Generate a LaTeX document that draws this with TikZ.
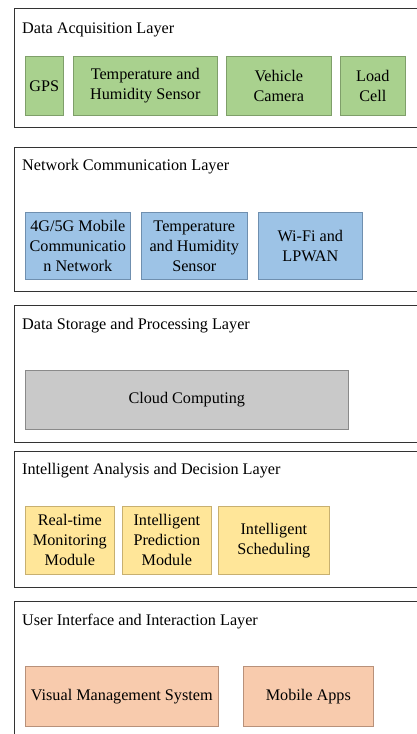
\documentclass[tikz,border=0pt]{standalone}
\usepackage{fontspec}
\setmainfont{Liberation Serif}
\definecolor{acqfill}{HTML}{A9D18E}
\definecolor{acqdraw}{HTML}{7F9F6A}
\definecolor{netfill}{HTML}{9DC3E6}
\definecolor{netdraw}{HTML}{6F8FAF}
\definecolor{cloudfill}{HTML}{C9C9C9}
\definecolor{clouddraw}{HTML}{8A8A8A}
\definecolor{anafill}{HTML}{FFE699}
\definecolor{anadraw}{HTML}{C8B070}
\definecolor{uifill}{HTML}{F8CBAD}
\definecolor{uidraw}{HTML}{B8917A}
\begin{document}
\begin{tikzpicture}[x=1pt,y=-1pt]
      \tikzset{layer/.style={draw=black!80, line width=1pt, fill=white, anchor=north west, inner sep=0pt},
               title/.style={anchor=base west, inner sep=0pt, font=\fontsize{16.2}{20}\selectfont},
               unit/.style={line width=0.6pt, anchor=north west, inner sep=0pt, align=center, font=\fontsize{16.2}{20}\selectfont}}
      \useasboundingbox (0,0) rectangle (417,734);
%% Layer frames
      	\node[layer, minimum width=420, minimum height=119] (acq) at (14,8) {};
      	\node[layer, minimum width=420, minimum height=144] (net) at (14,147) {};
      	\node[layer, minimum width=420, minimum height=137] (sto) at (14,305) {};
      	\node[layer, minimum width=420, minimum height=136] (ana) at (14,451) {};
      	\node[layer, minimum width=420, minimum height=140] (ui) at (14,601) {};
%% Titles
      	\node[title] (acqt) at (22,33) {Data Acquisition Layer};
      	\node[title] (nett) at (22,170) {Network Communication Layer};
      	\node[title] (stot) at (22,329) {Data Storage and Processing Layer};
      	\node[title] (anat) at (22,474) {Intelligent Analysis and Decision Layer};
      	\node[title] (uit) at (22,625) {User Interface and Interaction Layer};
%Data acquisition
		\node[unit, fill=acqfill, draw=acqdraw, minimum width=38, minimum height=59] (gps) at (25,56) {GPS};
		\node[unit, fill=acqfill, draw=acqdraw, minimum width=144, minimum height=59] (ths) at (73,56) {Temperature and\\Humidity Sensor};
		\node[unit, fill=acqfill, draw=acqdraw, minimum width=105, minimum height=59] (cam) at (226,56) {Vehicle\\Camera};
		\node[unit, fill=acqfill, draw=acqdraw, minimum width=65, minimum height=59] (load) at (340,56) {Load\\Cell};
%Network communication
		\node[unit, fill=netfill, draw=netdraw, minimum width=105, minimum height=67] (mob) at (25,212) {4G/5G Mobile\\Communicatio\\n Network};
		\node[unit, fill=netfill, draw=netdraw, minimum width=106, minimum height=67] (nths) at (141,212) {Temperature\\and Humidity\\Sensor};
		\node[unit, fill=netfill, draw=netdraw, minimum width=104, minimum height=67] (wifi) at (258,212) {Wi-Fi and\\LPWAN};
%Storage and processing
		\node[unit, fill=cloudfill, draw=clouddraw, minimum width=323, minimum height=59] (cloud) at (25,370) {Cloud Computing};
%Analysis and decision
		\node[unit, fill=anafill, draw=anadraw, minimum width=89, minimum height=68] (mon) at (25,506) {Real-time\\Monitoring\\Module};
		\node[unit, fill=anafill, draw=anadraw, minimum width=89, minimum height=68] (pred) at (122,506) {Intelligent\\Prediction\\Module};
		\node[unit, fill=anafill, draw=anadraw, minimum width=111, minimum height=68] (sched) at (218,506) {Intelligent\\Scheduling};
%User interface
		\node[unit, fill=uifill, draw=uidraw, minimum width=193, minimum height=60] (vms) at (25,666) {Visual Management System};
		\node[unit, fill=uifill, draw=uidraw, minimum width=130, minimum height=60] (apps) at (243,666) {Mobile Apps};
	\end{tikzpicture}
\end{document}
